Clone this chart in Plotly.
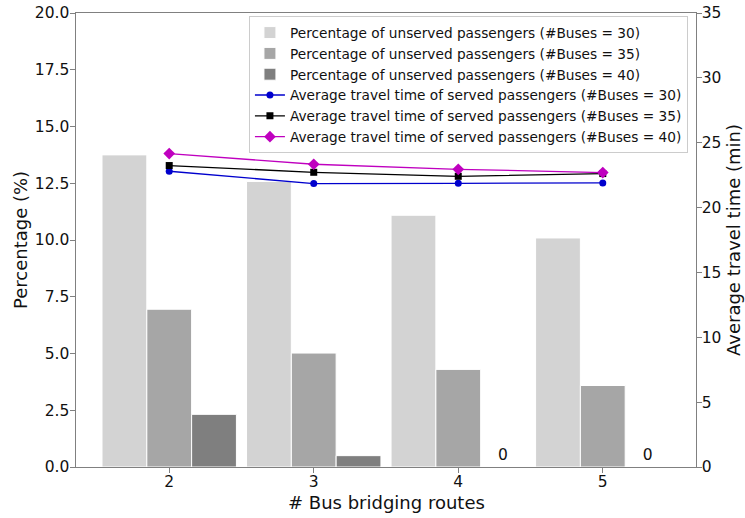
import plotly.graph_objects as go

# ---- data ----
routes = [2, 3, 4, 5]
unserved_30 = [13.75, 12.58, 11.09, 10.09]
unserved_35 = [6.95, 5.02, 4.30, 3.59]
unserved_40 = [2.32, 0.50, 0.0, 0.0]
travel_30 = [22.80, 21.85, 21.87, 21.90]
travel_35 = [23.24, 22.72, 22.41, 22.62]
travel_40 = [24.16, 23.34, 22.95, 22.70]
left_ticks = [0, 2.5, 5, 7.5, 10, 12.5, 15, 17.5, 20]
right_ticks = [0, 5, 10, 15, 20, 25, 30, 35]

FONT = "DejaVu Sans"
AX = "#808080"
TXT = "#111111"

fig = go.Figure()

bar_specs = [
    (unserved_30, "#d3d3d3", "Percentage of unserved passengers (#Buses = 30)"),
    (unserved_35, "#a6a6a6", "Percentage of unserved passengers (#Buses = 35)"),
    (unserved_40, "#7f7f7f", "Percentage of unserved passengers (#Buses = 40)"),
]
for vals, col, name in bar_specs:
    txt = [("%g" % v) if v == 0 else "" for v in vals] if vals is unserved_40 else None
    fig.add_trace(go.Bar(
        x=routes, y=vals, name=name,
        marker=dict(color=col, line=dict(color="white", width=1)),
        text=txt, textposition="outside" if txt else None,
        textfont=dict(family=FONT, size=15.5, color=TXT),
        constraintext="none", cliponaxis=False,
        yaxis="y",
    ))

line_specs = [
    (travel_30, "#0000cd", "circle", 7, "Average travel time of served passengers (#Buses = 30)"),
    (travel_35, "#000000", "square", 7, "Average travel time of served passengers (#Buses = 35)"),
    (travel_40, "#bf00bf", "diamond", 9, "Average travel time of served passengers (#Buses = 40)"),
]
for vals, col, sym, sz, name in line_specs:
    fig.add_trace(go.Scatter(
        x=routes, y=vals, name=name, mode="lines+markers",
        line=dict(color=col, width=1.3),
        marker=dict(color=col, symbol=sym, size=sz),
        yaxis="y2",
    ))

axis_common = dict(
    showline=True, linecolor=AX, linewidth=1.2,
    ticks="outside", ticklen=4.5, tickcolor=AX, tickwidth=1,
    showgrid=False, zeroline=False, automargin=False,
    ticklabeloverflow="allow",
    tickfont=dict(family=FONT, size=15.5, color=TXT),
)

fig.update_layout(
    width=745, height=518,
    margin=dict(l=76, r=49, t=12.7, b=51.3),
    paper_bgcolor="white", plot_bgcolor="white",
    font=dict(family=FONT, size=15.5, color=TXT),
    barmode="group", bargap=0.07, bargroupgap=0,
    showlegend=True,
    legend=dict(
        x=0.987, y=0.993, xanchor="right", yanchor="top",
        bgcolor="rgba(255,255,255,0.85)", bordercolor="#cccccc", borderwidth=1,
        font=dict(family=FONT, size=13.7, color=TXT),
        tracegroupgap=0,
    ),
    xaxis=dict(
        range=[1.355, 5.645], tickmode="array", tickvals=routes,
        mirror=True, ticklabelstandoff=-4, **axis_common,
    ),
    yaxis=dict(
        range=[0, 20], tickmode="array", tickvals=left_ticks,
        ticktext=["%.1f" % v for v in left_ticks],
        ticklabelstandoff=-2, **axis_common,
    ),
    yaxis2=dict(
        range=[0, 35], tickmode="array", tickvals=right_ticks,
        overlaying="y", side="right", ticklabelstandoff=-3, **axis_common,
    ),
    annotations=[
        dict(text="# Bus bridging routes", xref="paper", yref="paper",
             x=0.5, y=0, yshift=-35.3, xanchor="center", yanchor="middle",
             showarrow=False, font=dict(family=FONT, size=18, color=TXT)),
        dict(text="Percentage (%)", xref="paper", yref="paper",
             x=0, y=0.5, xshift=-56, xanchor="center", yanchor="middle",
             textangle=-90, showarrow=False,
             font=dict(family=FONT, size=18, color=TXT)),
        dict(text="Average travel time (min)", xref="paper", yref="paper",
             x=1, y=0.5, xshift=37, xanchor="center", yanchor="middle",
             textangle=-90, showarrow=False,
             font=dict(family=FONT, size=18, color=TXT)),
    ],
)

fig.write_html("out.html", config={"displayModeBar": False},
               post_script="document.body.style.margin='0';")
